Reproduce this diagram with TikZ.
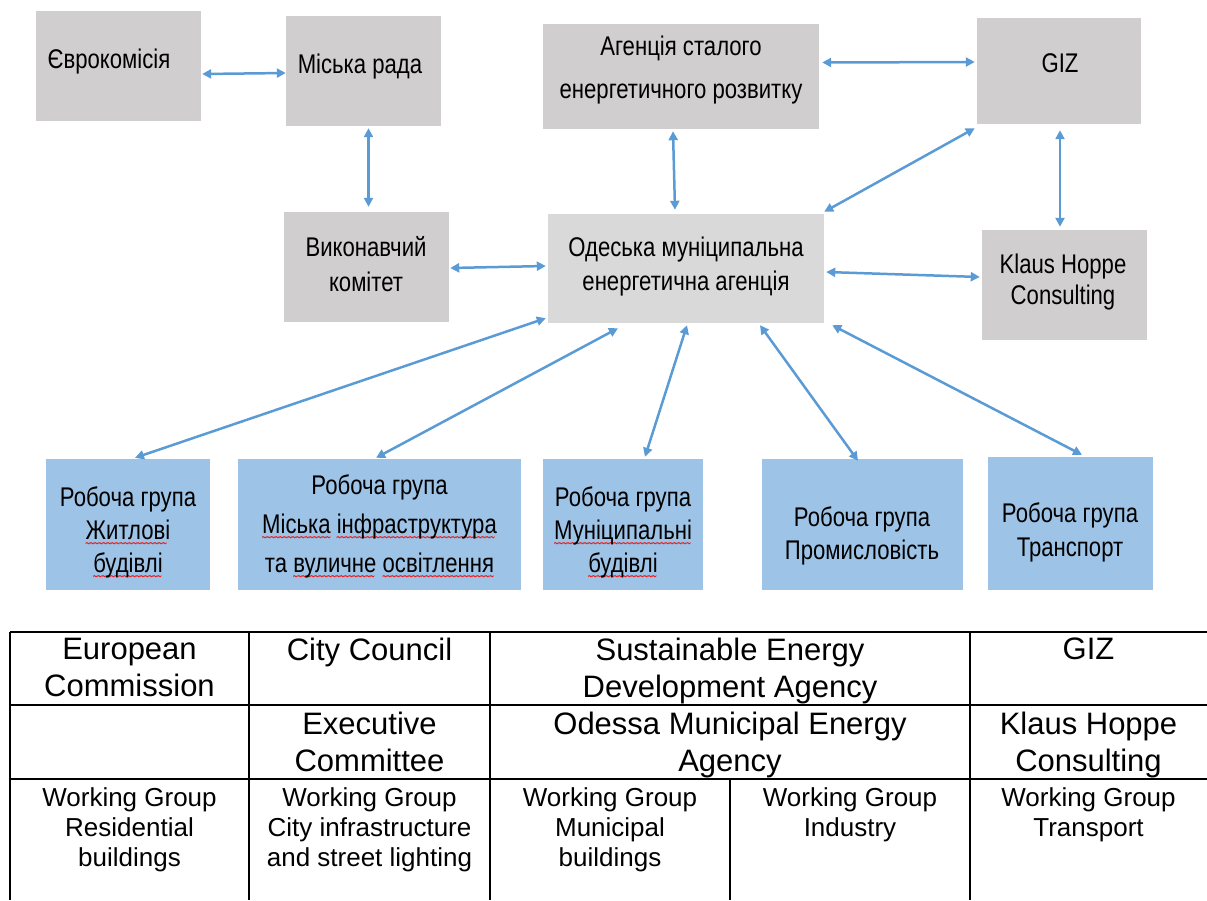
\documentclass[tikz,border=0pt]{standalone}
\usepackage{fontspec}
\setmainfont{Liberation Sans}
\newfontfamily\narrowsans[FakeStretch=0.82]{Liberation Sans}
\newfontfamily\wavefont{DejaVu Sans}
\usetikzlibrary{
		arrows.meta,
		positioning
	}
\definecolor{boxgray}{HTML}{D0CECE}
\definecolor{boxlight}{HTML}{D9D9D9}
\definecolor{wgblue}{HTML}{9DC3E6}
\definecolor{linkblue}{HTML}{5B9BD5}
\definecolor{spellred}{HTML}{F01818}
\newcommand\wavebit{\hbox{\wavefont\fontsize{7}{7}\selectfont\kern-0.8pt\textcolor{spellred}{\scalebox{1}[2.2]{\char"223C}}\kern-0.8pt}}
\newcommand\spellwave[1]{\setbox0=\hbox{#1}\rlap{\smash{\lower9.5pt\hbox to\wd0{\leaders\wavebit\hfill}}}\box0\relax}
\tikzset{
		>={Triangle[length=9pt,width=9pt]},
		orgbox/.style={fill=boxgray, draw=none, inner sep=0pt},
		wgbox/.style={orgbox, fill=wgblue},
		boxtext/.style={align=center, inner sep=0pt,
			font=\narrowsans\fontsize{27}{#1}\selectfont},
		boxtext/.default=34,
		link/.style={<->, draw=linkblue, line width=2.5pt},
		grid/.style={draw=black, line width=1.6pt},
		cellbig/.style={anchor=north, inner sep=0pt, align=center,
			font=\fontsize{31}{37}\selectfont},
		cellsmall/.style={anchor=north, inner sep=0pt, align=center,
			font=\fontsize{26}{30}\selectfont}
	}

\begin{document}
\begin{tikzpicture}[x=1pt, y=-1pt]
		\useasboundingbox (0,0) rectangle (1207,900);
		% upper level
		\node[orgbox, minimum width=165pt, minimum height=110pt] (euc) at (118.5,66) {};
		\node[orgbox, minimum width=155pt, minimum height=110pt] (rada) at (363.5,71) {};
		\node[orgbox, minimum width=276pt, minimum height=105pt] (seda) at (681,76.5) {};
		\node[orgbox, minimum width=164pt, minimum height=106pt] (giz) at (1059,71) {};
		\node[boxtext] (euc-t) at (109,62) {Єврокомісія};
		\node[boxtext] (rada-t) at (360,67) {Міська рада};
		\node[boxtext=43] (seda-t) at (681,70) {Агенція сталого\\енергетичного розвитку};
		\node[boxtext] (giz-t) at (1060,63) {GIZ};
		% middle level
		\node[orgbox, minimum width=165pt, minimum height=110pt] (vyk) at (366.5,267) {};
		\node[orgbox, fill=boxlight, minimum width=276pt, minimum height=109pt] (oma) at (686,268.5) {};
		\node[orgbox, minimum width=165pt, minimum height=110pt] (khc) at (1064.5,285) {};
		\node[boxtext=35] (vyk-t) at (366,264.5) {Виконавчий\\комітет};
		\node[boxtext] (oma-t) at (686,267) {Одеська муніципальна\\енергетична агенція};
		\node[boxtext=31] (khc-t) at (1063,282.5) {Klaus Hoppe\\Consulting};
		% working groups
		\node[wgbox, minimum width=164pt, minimum height=131pt] (wg1) at (128,524.5) {};
		\node[wgbox, minimum width=283pt, minimum height=131pt] (wg2) at (379.5,524.5) {};
		\node[wgbox, minimum width=160pt, minimum height=131pt] (wg3) at (623,524.5) {};
		\node[wgbox, minimum width=201pt, minimum height=131pt] (wg4) at (862.5,524.5) {};
		\node[wgbox, minimum width=165pt, minimum height=133pt] (wg5) at (1070.5,523.5) {};
		\node[boxtext=33] (wg1-t) at (128,532) {Робоча група\\\spellwave{Житлові}\\\spellwave{будівлі}};
		\node[boxtext=39] (wg2-t) at (379.5,526) {Робоча група\\\spellwave{Міська} \spellwave{інфраструктура}\\та \spellwave{вуличне} \spellwave{освітлення}};
		\node[boxtext=33] (wg3-t) at (623,532) {Робоча група\\\spellwave{Муніципальні}\\\spellwave{будівлі}};
		\node[boxtext=33] (wg4-t) at (862,535.5) {Робоча група\\Промисловість};
		\node[boxtext=34] (wg5-t) at (1070,532) {Робоча група\\Транспорт};
		% links
		\draw[link] ([shift={(1,8)}]euc.east) -- ([shift={(0,2)}]rada.west);
		\draw[link] ([shift={(5,2)}]rada.south) -- ([shift={(2,-5)}]vyk.north);
		\draw[link] ([shift={(3,-14)}]seda.east) -- ([shift={(-2,-9)}]giz.west);
		\draw[link] ([shift={(-8,2)}]seda.south) -- ([shift={(-11,-4)}]oma.north);
		\draw[link] ([shift={(-2,4)}]giz.south west) -- ([shift={(0,-2)}]oma.north east);
		\draw[link] ([shift={(1,6)}]giz.south) -- ([shift={(-4.5,-3)}]khc.north);
		\draw[link] ([shift={(1,1)}]vyk.east) -- ([shift={(-2,-2.5)}]oma.west);
		\draw[link] ([shift={(2,3.5)}]oma.east) -- ([shift={(-2,-8)}]khc.west);
		\draw[link] ([shift={(-2,-5)}]oma.south west) -- ([shift={(7,-1)}]wg1.north);
		\draw[link] ([shift={(-68,5)}]oma.south) -- ([shift={(-3.5,-1)}]wg2.north);
		\draw[link] ([shift={(1,2)}]oma.south) -- ([shift={(22,-2)}]wg3.north);
		\draw[link] ([shift={(74,2)}]oma.south) -- ([shift={(-4.5,2)}]wg4.north);
		\draw[link] ([shift={(8,2)}]oma.south east) -- ([shift={(11.5,-2)}]wg5.north);
		% table
		\foreach \y in {632,705,779}
			\draw[grid] (10,\y) -- (1207,\y);
		\foreach \x in {10,249,490,970}
			\draw[grid] (\x,632) -- (\x,900);
		\draw[grid] (730,779) -- (730,900);
		\node[cellbig] (tec) at (129.5,638) {European\\Commission};
		\node[cellbig] (tcc) at (369.5,638) {City Council};
		\node[cellbig] (tsed) at (730,638) {Sustainable Energy\\Development Agency};
		\node[cellbig] (tgiz) at (1088.5,638) {GIZ};
		\node[cellbig] (tex) at (369.5,712) {Executive\\Committee};
		\node[cellbig] (tom) at (730,712) {Odessa Municipal Energy\\Agency};
		\node[cellbig] (tkh) at (1088.5,712) {Klaus Hoppe\\Consulting};
		\node[cellsmall] (tw1) at (129.5,787) {Working Group\\Residential\\buildings};
		\node[cellsmall] (tw2) at (369.5,787) {Working Group\\City infrastructure\\and street lighting};
		\node[cellsmall] (tw3) at (610,787) {Working Group\\Municipal\\buildings};
		\node[cellsmall] (tw4) at (850,787) {Working Group\\Industry};
		\node[cellsmall] (tw5) at (1088.5,787) {Working Group\\Transport};
	\end{tikzpicture}
\end{document}
